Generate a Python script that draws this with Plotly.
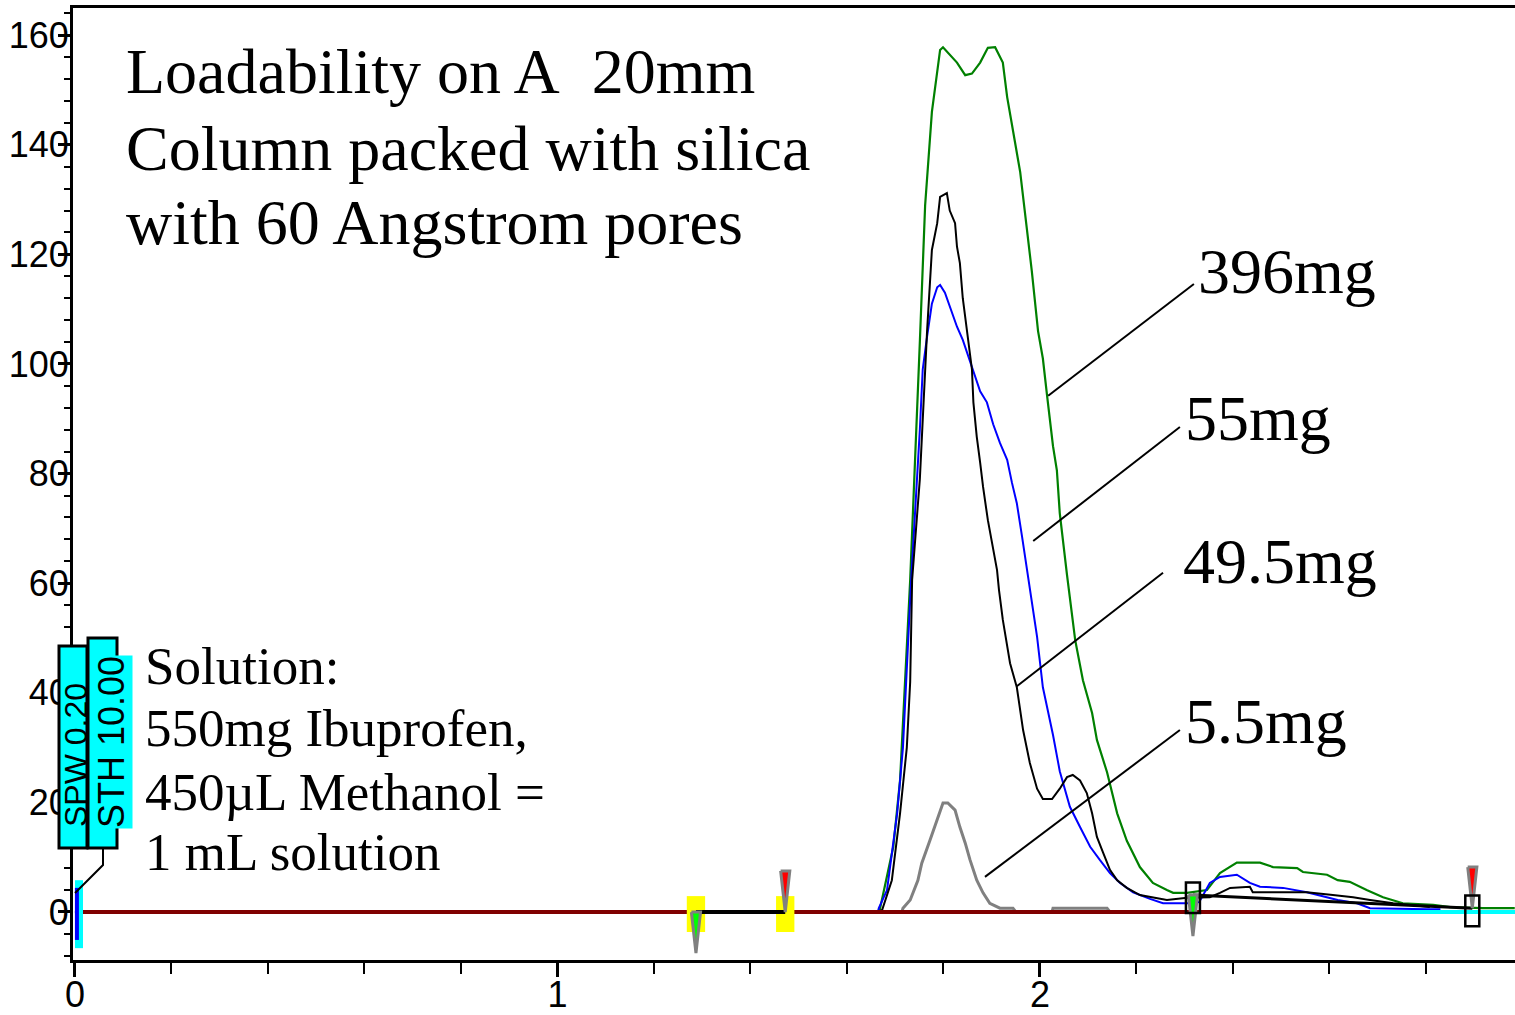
import plotly.graph_objects as go

# ---------------- data (time in min, signal in mAU) ----------------
green_t = [0, 1.664, 1.668, 1.696, 1.710, 1.724, 1.731, 1.751, 1.762, 1.776, 1.787, 1.793, 1.799,
           1.828, 1.845, 1.859, 1.876, 1.892, 1.907, 1.923, 1.932, 1.944, 1.959, 1.973, 1.983,
           1.996, 2.006, 2.015, 2.027, 2.035, 2.041, 2.056, 2.073, 2.089, 2.108, 2.118, 2.139,
           2.160, 2.180, 2.207, 2.228, 2.234, 2.263, 2.276, 2.305, 2.346, 2.373, 2.408, 2.456,
           2.483, 2.533, 2.545, 2.595, 2.617, 2.642, 2.677, 2.711, 2.752, 2.815, 2.850, 2.918, 2.984]
green_v = [0, 0, 0.4, 11.9, 24, 48, 60.6, 104, 129, 146, 153, 157.3, 157.8,
           155, 152.7, 153, 155, 157.7, 157.8, 155, 148.7, 142.7, 135, 124.5, 117,
           106, 101, 94, 85, 80.6, 72.8, 61.5, 49.6, 42.3, 36.3, 31.4, 25.5,
           18, 13, 8.2, 5.8, 5.3, 4.0, 3.5, 3.5, 4.0, 7.1, 9, 9,
           8.2, 8.0, 7.3, 6.8, 5.8, 5.5, 4.0, 2.7, 1.6, 1.3, 0.9, 0.7, 0.7]

blue_t = [0, 1.664, 1.666, 1.683, 1.704, 1.716, 1.726, 1.733, 1.751, 1.757, 1.766, 1.776, 1.787,
          1.793, 1.803, 1.813, 1.828, 1.840, 1.849, 1.861, 1.876, 1.890, 1.903, 1.917, 1.932,
          1.942, 1.952, 1.963, 1.973, 1.979, 1.994, 2.006, 2.027, 2.041, 2.062, 2.083, 2.104,
          2.124, 2.145, 2.166, 2.193, 2.228, 2.255, 2.305, 2.330, 2.352, 2.373, 2.408, 2.435,
          2.456, 2.504, 2.553, 2.617, 2.657, 2.684, 2.802, 2.830]
blue_v = [0, 0, 0.7, 4, 18, 30, 48, 60.6, 88, 99, 105, 111, 114,
          114.4, 113, 110.4, 106.8, 104.4, 102, 99, 95, 93, 89, 85.6, 82.5,
          78.3, 74.6, 68.4, 62.4, 59, 50.2, 41, 32.3, 25.7, 19.2, 15.5, 11.9,
          9.5, 7.1, 5.3, 3.6, 2.4, 1.6, 1.6, 1.8, 5.3, 6.4, 6.8, 5.3,
          4.6, 4.4, 3.6, 2.2, 1.6, 0.7, 0.5, 0.5]

black_t = [0, 1.664, 1.673, 1.693, 1.710, 1.724, 1.731, 1.735, 1.751, 1.766, 1.776, 1.787, 1.793,
           1.799, 1.807, 1.813, 1.824, 1.828, 1.834, 1.840, 1.849, 1.859, 1.862, 1.869, 1.876,
           1.882, 1.892, 1.901, 1.911, 1.915, 1.923, 1.938, 1.952, 1.965, 1.979, 1.994, 2.006,
           2.025, 2.041, 2.056, 2.068, 2.083, 2.097, 2.108, 2.118, 2.131, 2.145, 2.160, 2.180,
           2.207, 2.242, 2.263, 2.305, 2.332, 2.352, 2.373, 2.394, 2.435, 2.441, 2.477, 2.553,
           2.607, 2.649, 2.684, 2.732, 2.808]
black_v = [0, 0, 0.4, 5.8, 18, 30, 42, 60.6, 79, 106, 120.8, 125.7, 130.5,
           130.8, 131.2, 128, 125.7, 121.4, 118.4, 112, 105.5, 99, 93, 86.7, 82,
           77.6, 71.5, 67.3, 62.4, 58.8, 53.3, 45.4, 41, 33.2, 27.2, 22.5, 20.6,
           20.6, 22.5, 24.6, 25, 24, 21.7, 18, 13.7, 10.8, 7.7, 5.8, 4.4,
           3.1, 2.6, 2.2, 2.6, 2.6, 2.7, 3.5, 4.4, 4.6, 3.6, 3.6, 3.6,
           3.1, 2.7, 2.2, 1.6, 0.9]

gray_t = [0, 1.714, 1.716, 1.731, 1.747, 1.755, 1.772, 1.787, 1.799, 1.809, 1.824, 1.834, 1.845,
          1.855, 1.869, 1.882, 1.896, 1.917, 1.944, 1.950, 2.025, 2.027, 2.139, 2.145, 2.200]
gray_v = [0, 0, 0.7, 2.2, 5.8, 8.9, 13.1, 16.8, 19.9, 19.9, 18.6, 15.5, 12.6,
          9.5, 5.8, 3.5, 1.6, 0.7, 0.7, 0, 0, 0.7, 0.7, 0, 0]

baseline_end = 2.684          # end of the maroon baseline, cyan after it
inject_events = [1.287, 1.472]  # collection window markers (on baseline)
fraction_events = [2.317, 2.896]  # fraction markers
fraction_levels = [3.1, 0.7]

series_labels = ["396mg", "55mg", "49.5mg", "5.5mg"]
label_pos = [(2.323, 116.8), (2.296, 90.1), (2.292, 63.9), (2.296, 34.7)]
leader_from = [(2.017, 94.2), (1.986, 67.7), (1.952, 41.2), (1.886, 6.4)]
leader_to = [(2.319, 114.6), (2.290, 88.5), (2.255, 61.9), (2.290, 33.2)]

title_lines = ["Loadability on A\u00a0 20mm", "Column packed with silica", "with 60 Angstrom pores"]
title_y = [153.4, 139.4, 125.9]
solution_lines = ["Solution:", "550mg Ibuprofen,", "450\u00b5L Methanol =", "1 mL solution"]
solution_y = [44.9, 33.6, 21.9, 11.0]

x_range = [-0.0041, 2.9845]
y_range = [-8.76, 164.96]

# ---------------- figure ----------------
W, H = 1515, 1015
ML, MR, MT, MB = 73, 0, 8, 55


def px(x, y):
    """pixel -> paper coords"""
    return (x - ML) / (W - ML - MR), (H - MB - y) / (H - MT - MB)


fig = go.Figure()

fig.add_trace(go.Scatter(x=gray_t, y=gray_v, mode="lines", line=dict(color="#808080", width=3)))
fig.add_trace(go.Scatter(x=green_t, y=green_v, mode="lines", line=dict(color="#008000", width=2.2)))
fig.add_trace(go.Scatter(x=blue_t, y=blue_v, mode="lines", line=dict(color="#0000ff", width=2)))
fig.add_trace(go.Scatter(x=black_t, y=black_v, mode="lines", line=dict(color="#000000", width=2)))

# baselines
fig.add_trace(go.Scatter(x=[0, baseline_end], y=[0, 0], mode="lines",
                         line=dict(color="#800000", width=4)))
fig.add_trace(go.Scatter(x=[baseline_end, x_range[1]], y=[0, 0], mode="lines",
                         line=dict(color="#00ffff", width=4)))

# injection marker at t=0
fig.add_trace(go.Scatter(x=[0, 0.0166, 0.0166, 0, 0], y=[-6.6, -6.6, 5.8, 5.8, -6.6],
                         mode="lines", fill="toself", fillcolor="#00ffff",
                         line=dict(color="#00ffff", width=0)))
fig.add_trace(go.Scatter(x=[0.004, 0.004], y=[-5.1, 4.4], mode="lines",
                         line=dict(color="#0000ff", width=4)))

# yellow event boxes
for t in inject_events:
    hw = 0.019
    fig.add_trace(go.Scatter(x=[t - hw, t + hw, t + hw, t - hw, t - hw],
                             y=[-3.65, -3.65, 2.9, 2.9, -3.65], mode="lines",
                             fill="toself", fillcolor="#ffff00",
                             line=dict(color="#ffff00", width=0)))

# integration lines
fig.add_trace(go.Scatter(x=inject_events, y=[0, 0], mode="lines",
                         line=dict(color="#000000", width=4)))
fig.add_trace(go.Scatter(x=fraction_events, y=fraction_levels, mode="lines",
                         line=dict(color="#000000", width=3)))

# triangles (start = green down, end = red down onto level)
tri_hw, tri_h = 0.0095, 7.5
starts = [(inject_events[0], 0), (fraction_events[0], fraction_levels[0])]
ends = [(inject_events[1], 0), (fraction_events[1], fraction_levels[1])]
for t, lv in starts:
    fig.add_trace(go.Scatter(x=[t - tri_hw, t + tri_hw, t, t - tri_hw],
                             y=[lv, lv, lv - tri_h, lv], mode="lines", fill="toself",
                             fillcolor="#00ff00", line=dict(color="#808080", width=3)))
for t, lv in ends:
    fig.add_trace(go.Scatter(x=[t - tri_hw, t + tri_hw, t, t - tri_hw],
                             y=[lv + tri_h, lv + tri_h, lv, lv + tri_h], mode="lines",
                             fill="toself", fillcolor="#ff0000",
                             line=dict(color="#808080", width=3)))

shapes = []
# fraction boxes
for t, lv in zip(fraction_events, fraction_levels):
    shapes.append(dict(type="rect", xref="x", yref="y", x0=t - 0.0145, x1=t + 0.0145,
                       y0=lv - 3.3, y1=lv + 2.3, line=dict(color="black", width=2.5),
                       fillcolor="rgba(0,0,0,0)", layer="above"))

# leader lines
for (x0, y0), (x1, y1) in zip(leader_from, leader_to):
    shapes.append(dict(type="line", xref="x", yref="y", x0=x0, y0=y0, x1=x1, y1=y1,
                       line=dict(color="black", width=2)))

# SPW / STH boxes
for (xa, ya, xb, yb) in [(59, 646, 87, 848), (88, 638, 117, 848)]:
    p0 = px(xa, yb)
    p1 = px(xb, ya)
    shapes.append(dict(type="rect", xref="paper", yref="paper", x0=p0[0], y0=p0[1],
                       x1=p1[0], y1=p1[1], fillcolor="#00ffff",
                       line=dict(color="black", width=3), layer="above"))
a, b, c = px(103, 848), px(103, 865), px(75, 893)
shapes.append(dict(type="path", xref="paper", yref="paper",
                   path=f"M {a[0]} {a[1]} L {b[0]} {b[1]} L {c[0]} {c[1]}",
                   line=dict(color="black", width=2)))

annotations = []
serif = "Liberation Serif, Times New Roman, serif"
for txt, yv in zip(title_lines, title_y):
    annotations.append(dict(x=0.1016, y=yv, xref="x", yref="y", text=txt, showarrow=False,
                            xanchor="left", yanchor="middle",
                            font=dict(family=serif, size=64, color="black")))
for txt, yv in zip(solution_lines, solution_y):
    annotations.append(dict(x=0.141, y=yv, xref="x", yref="y", text=txt, showarrow=False,
                            xanchor="left", yanchor="middle",
                            font=dict(family=serif, size=53, color="black")))
for txt, (xv, yv) in zip(series_labels, label_pos):
    annotations.append(dict(x=xv, y=yv, xref="x", yref="y", text=txt, showarrow=False,
                            xanchor="left", yanchor="middle",
                            font=dict(family=serif, size=64, color="black")))

sans = "Liberation Sans, Arial, sans-serif"
p = px(76, 755)
annotations.append(dict(x=p[0], y=p[1], xref="paper", yref="paper", text="SPW 0.20",
                        showarrow=False, textangle=-90, xanchor="center", yanchor="middle",
                        font=dict(family=sans, size=32, color="black")))
p = px(111, 742)
annotations.append(dict(x=p[0], y=p[1], xref="paper", yref="paper", text="STH 10.00",
                        showarrow=False, textangle=-90, xanchor="center", yanchor="middle",
                        bgcolor="#00ffff", borderpad=0,
                        font=dict(family=sans, size=36, color="black")))

tickfont = dict(family="Liberation Sans, Arial", size=36, color="black")

fig.update_layout(
    width=W, height=H, autosize=False,
    margin=dict(l=ML, r=MR, t=MT, b=MB, pad=0),
    paper_bgcolor="white", plot_bgcolor="white",
    showlegend=False,
    shapes=shapes, annotations=annotations,
    xaxis=dict(range=x_range, showline=True, linecolor="black", linewidth=3, mirror=True,
               ticks="outside", tick0=0, dtick=1, ticklen=14, tickwidth=3, tickcolor="black",
               minor=dict(dtick=0.2, ticklen=11, tickwidth=2, ticks="outside", tickcolor="black"),
               showgrid=False, zeroline=False, tickfont=tickfont, automargin=False,
               ticklabelstandoff=-13),
    yaxis=dict(range=y_range, showline=True, linecolor="black", linewidth=3,
               ticks="outside", tick0=0, dtick=20, ticklen=12, tickwidth=3, tickcolor="black",
               minor=dict(dtick=4, ticklen=6, tickwidth=2, ticks="outside", tickcolor="black"),
               showgrid=False, zeroline=False, tickfont=tickfont, ticklabelstandoff=-18,
               automargin=False),
)

fig.write_html("out.html")
